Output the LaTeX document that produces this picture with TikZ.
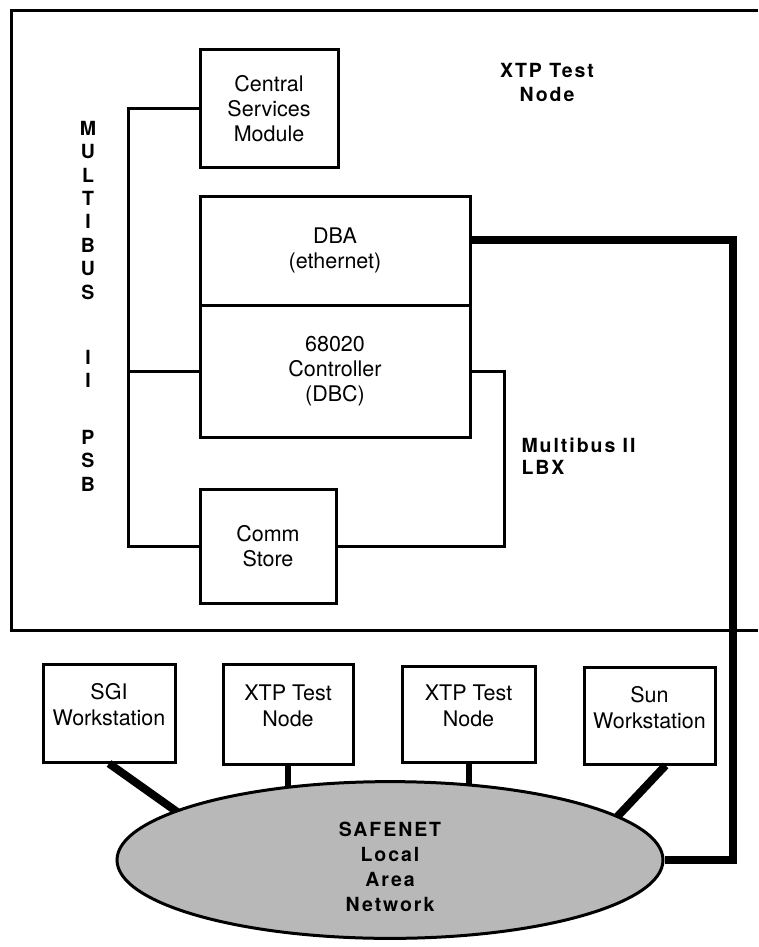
\documentclass[tikz,border=0pt]{standalone}
\usepackage{fontspec}
\setmainfont{TeX Gyre Heros}
\newfontfamily\lblfont[LetterSpace=10]{TeX Gyre Heros}
\usetikzlibrary{shapes.geometric,backgrounds}
\begin{document}
\begin{tikzpicture}[x=1pt, y=-1pt, line cap=butt, line join=miter,
	box/.style={draw, line width=3pt, align=center, inner sep=0pt, font=\fontsize{21.5}{25}\selectfont},
	pc/.style={align=center, font=\fontsize{21.5}{26}\selectfont},
	lbl/.style={align=center, font=\lblfont\bfseries\fontsize{19.5}{24}\selectfont},
	wire/.style={line width=3pt}, fat/.style={line width=8pt}, mid/.style={line width=6pt}]
	\useasboundingbox (0,0) rectangle (758,947);
	% XTP test node
	\draw[line width=3pt] (758,11) -| (11,630) -- (758,630);
	\node[box, minimum width=138pt, minimum height=117pt] (csm) at (269,108.5) {Central\\Services\\Module};
	\node[box, minimum width=270pt, minimum height=109pt] (dba) at (335,250.5) {DBA\\(ethernet)};
	\node[box, minimum width=270pt, minimum height=132pt] (ctl) at (335,371) {68020\\Controller\\(DBC)};
	\node[box, minimum width=136pt, minimum height=114pt] (comm) at (268,546) {Comm\\Store};
	\node[lbl] (title) at (547,82) {XTP Test\\Node};
	\node[lbl, font=\lblfont\bfseries\fontsize{19.5}{23.4}\selectfont] (psb) at (88,306) {M\\U\\L\\T\\I\\B\\U\\S\\[42pt]I\\I\\[33pt]P\\S\\B};
	\node[lbl, align=left, anchor=west, font=\lblfont\bfseries\fontsize{19.5}{22}\selectfont] (lbxlbl) at (518,456) {Multibus II\\LBX};
	\coordinate (psbx) at (128,0);
	\coordinate (lbx) at (504,0);
	\coordinate (eth) at (733,240);
	\draw[wire] (csm.west) -| (psbx |- comm.west) -- (comm.west);
	\draw[wire] (psbx |- ctl.west) -- (ctl.west);
	\draw[wire] (ctl.east) -| (lbx |- comm.east) -- (comm.east);
	% LAN
	\node[box, minimum width=132pt, minimum height=98pt, label={[pc, yshift=8pt]center:SGI\\Workstation}] (sgi) at (109,713) {};
	\node[box, minimum width=130pt, minimum height=100pt, label={[pc, yshift=8pt]center:XTP Test\\Node}] (xtpa) at (288,714) {};
	\node[box, minimum width=133pt, minimum height=96pt, label={[pc, yshift=8pt]center:XTP Test\\Node}] (xtpb) at (468.5,714) {};
	\node[box, minimum width=131pt, minimum height=97pt, label={[pc, yshift=8pt]center:Sun\\Workstation}] (sun) at (649.5,715.5) {};
	\node[draw, ellipse, line width=3pt, fill=black!28, minimum width=546pt, minimum height=156pt, lbl, font=\lblfont\bfseries\fontsize{19.5}{25}\selectfont, text height=104pt] (lan) at (390,860) {SAFENET\\Local\\Area\\Network};
	\draw[fat] (dba.east |- eth) -- (eth) |- (lan.east);
	\begin{scope}[on background layer]
		\draw[fat, shorten >=-8pt] (sgi.south) -- (lan.167);
		\draw[mid] (xtpa.south) -- (xtpa.south |- lan.center);
		\draw[mid] (xtpb.south) -- (xtpb.south |- lan.center);
		\draw[fat, shorten >=-8pt] ([xshift=16pt]sun.south) -- (lan.11);
	\end{scope}
\end{tikzpicture}
\end{document}
